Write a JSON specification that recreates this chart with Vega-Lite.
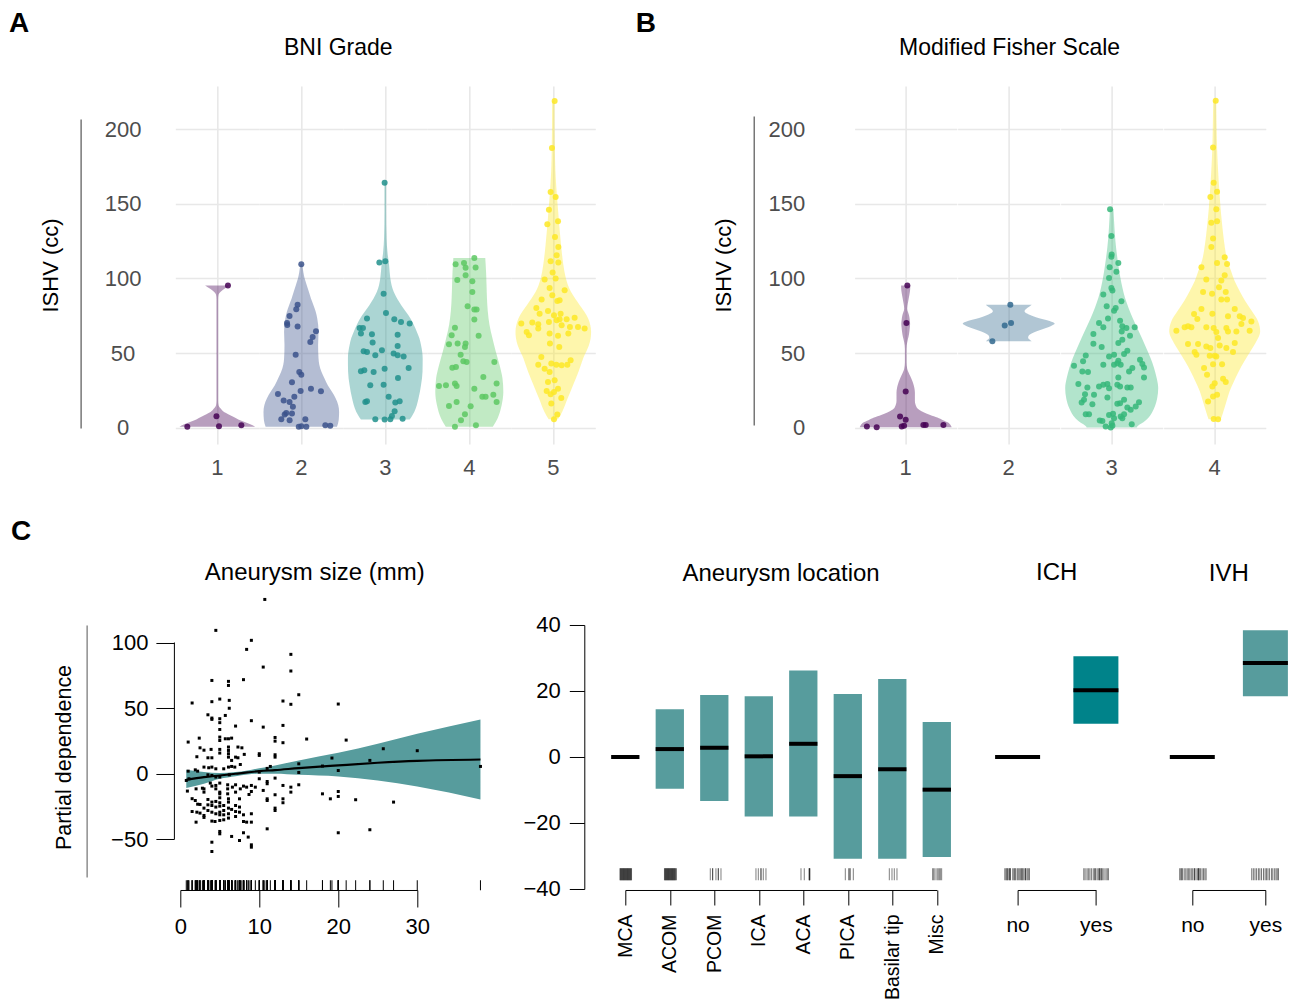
{
"$schema":"https://vega.github.io/schema/vega-lite/v6.json",
"background":"white",
"padding":{"left":8.3,"top":10,"right":5,"bottom":5},
"config":{
 "view":{"stroke":null},
 "font":"Liberation Sans",
 "title":{"font":"Liberation Sans","fontWeight":"normal","color":"black","fontSize":24},
 "axis":{"labelFont":"Liberation Sans","titleFont":"Liberation Sans"},
 "header":{"labelFont":"Liberation Sans","titleFont":"Liberation Sans"}
},
"datasets":{
"bni":[
{"k":"v","g":1,"v":0.5,"l":-0.45,"h":0.45},{"k":"v","g":1,"v":2,"l":-0.4,"h":0.4},{"k":"v","g":1,"v":3.8,"l":-0.325,"h":0.325},{"k":"v","g":1,"v":5.5,"l":-0.25,"h":0.25},{"k":"v","g":1,"v":7.2,"l":-0.19,"h":0.19},{"k":"v","g":1,"v":9,"l":-0.13,"h":0.13},{"k":"v","g":1,"v":10.5,"l":-0.08,"h":0.08},{"k":"v","g":1,"v":12.8,"l":-0.04,"h":0.04},{"k":"v","g":1,"v":15,"l":-0.015,"h":0.015},{"k":"v","g":1,"v":18,"l":-0.01,"h":0.01},{"k":"v","g":1,"v":86,"l":-0.01,"h":0.01},{"k":"v","g":1,"v":89,"l":-0.015,"h":0.015},{"k":"v","g":1,"v":91,"l":-0.04,"h":0.04},{"k":"v","g":1,"v":93,"l":-0.085,"h":0.085},{"k":"v","g":1,"v":95.2,"l":-0.145,"h":0.145},
{"k":"v","g":2,"v":0.5,"l":-0.425,"h":0.425},{"k":"v","g":2,"v":5,"l":-0.445,"h":0.445},{"k":"v","g":2,"v":10.5,"l":-0.45,"h":0.45},{"k":"v","g":2,"v":15,"l":-0.44,"h":0.44},{"k":"v","g":2,"v":19.5,"l":-0.41,"h":0.41},{"k":"v","g":2,"v":24,"l":-0.365,"h":0.365},{"k":"v","g":2,"v":28.4,"l":-0.315,"h":0.315},{"k":"v","g":2,"v":33,"l":-0.275,"h":0.275},{"k":"v","g":2,"v":37.4,"l":-0.24,"h":0.24},{"k":"v","g":2,"v":42,"l":-0.215,"h":0.215},{"k":"v","g":2,"v":46.3,"l":-0.205,"h":0.205},{"k":"v","g":2,"v":55.3,"l":-0.2,"h":0.2},{"k":"v","g":2,"v":64.2,"l":-0.205,"h":0.205},{"k":"v","g":2,"v":73.2,"l":-0.19,"h":0.19},{"k":"v","g":2,"v":78,"l":-0.17,"h":0.17},{"k":"v","g":2,"v":82.1,"l":-0.145,"h":0.145},{"k":"v","g":2,"v":86.5,"l":-0.115,"h":0.115},{"k":"v","g":2,"v":91,"l":-0.09,"h":0.09},{"k":"v","g":2,"v":95.5,"l":-0.065,"h":0.065},{"k":"v","g":2,"v":100,"l":-0.04,"h":0.04},{"k":"v","g":2,"v":104,"l":-0.025,"h":0.025},{"k":"v","g":2,"v":107.8,"l":-0.015,"h":0.015},{"k":"v","g":2,"v":109.5,"l":-0.01,"h":0.01},
{"k":"v","g":3,"v":5.4,"l":-0.29,"h":0.29},{"k":"v","g":3,"v":8,"l":-0.32,"h":0.32},{"k":"v","g":3,"v":10.5,"l":-0.345,"h":0.345},{"k":"v","g":3,"v":15,"l":-0.375,"h":0.375},{"k":"v","g":3,"v":19.5,"l":-0.395,"h":0.395},{"k":"v","g":3,"v":28.4,"l":-0.425,"h":0.425},{"k":"v","g":3,"v":37.4,"l":-0.443,"h":0.443},{"k":"v","g":3,"v":46.3,"l":-0.445,"h":0.445},{"k":"v","g":3,"v":55.3,"l":-0.425,"h":0.425},{"k":"v","g":3,"v":60,"l":-0.405,"h":0.405},{"k":"v","g":3,"v":64.2,"l":-0.375,"h":0.375},{"k":"v","g":3,"v":68.7,"l":-0.34,"h":0.34},{"k":"v","g":3,"v":73.2,"l":-0.3,"h":0.3},{"k":"v","g":3,"v":77.6,"l":-0.245,"h":0.245},{"k":"v","g":3,"v":82.1,"l":-0.19,"h":0.19},{"k":"v","g":3,"v":86.5,"l":-0.14,"h":0.14},{"k":"v","g":3,"v":91,"l":-0.1,"h":0.1},{"k":"v","g":3,"v":95.5,"l":-0.075,"h":0.075},{"k":"v","g":3,"v":100,"l":-0.06,"h":0.06},{"k":"v","g":3,"v":109,"l":-0.045,"h":0.045},{"k":"v","g":3,"v":118,"l":-0.025,"h":0.025},{"k":"v","g":3,"v":127,"l":-0.015,"h":0.015},{"k":"v","g":3,"v":145,"l":-0.01,"h":0.01},{"k":"v","g":3,"v":164.2,"l":-0.01,"h":0.01},
{"k":"v","g":4,"v":0.5,"l":-0.28,"h":0.28},{"k":"v","g":4,"v":6,"l":-0.335,"h":0.335},{"k":"v","g":4,"v":15,"l":-0.385,"h":0.385},{"k":"v","g":4,"v":24,"l":-0.405,"h":0.405},{"k":"v","g":4,"v":33,"l":-0.395,"h":0.395},{"k":"v","g":4,"v":42,"l":-0.36,"h":0.36},{"k":"v","g":4,"v":51,"l":-0.315,"h":0.315},{"k":"v","g":4,"v":60,"l":-0.275,"h":0.275},{"k":"v","g":4,"v":69,"l":-0.24,"h":0.24},{"k":"v","g":4,"v":78,"l":-0.22,"h":0.22},{"k":"v","g":4,"v":87,"l":-0.21,"h":0.21},{"k":"v","g":4,"v":96,"l":-0.205,"h":0.205},{"k":"v","g":4,"v":104,"l":-0.2,"h":0.2},{"k":"v","g":4,"v":113.7,"l":-0.19,"h":0.19},
{"k":"v","g":5,"v":5.6,"l":-0.055,"h":0.055},{"k":"v","g":5,"v":10.5,"l":-0.105,"h":0.105},{"k":"v","g":5,"v":19.5,"l":-0.17,"h":0.17},{"k":"v","g":5,"v":28.4,"l":-0.235,"h":0.235},{"k":"v","g":5,"v":37.4,"l":-0.3,"h":0.3},{"k":"v","g":5,"v":46.3,"l":-0.355,"h":0.355},{"k":"v","g":5,"v":55.3,"l":-0.425,"h":0.425},{"k":"v","g":5,"v":60,"l":-0.445,"h":0.445},{"k":"v","g":5,"v":64.2,"l":-0.45,"h":0.45},{"k":"v","g":5,"v":68.7,"l":-0.44,"h":0.44},{"k":"v","g":5,"v":73.2,"l":-0.415,"h":0.415},{"k":"v","g":5,"v":77.6,"l":-0.37,"h":0.37},{"k":"v","g":5,"v":82.1,"l":-0.315,"h":0.315},{"k":"v","g":5,"v":86.5,"l":-0.26,"h":0.26},{"k":"v","g":5,"v":91,"l":-0.21,"h":0.21},{"k":"v","g":5,"v":95.5,"l":-0.175,"h":0.175},{"k":"v","g":5,"v":100,"l":-0.15,"h":0.15},{"k":"v","g":5,"v":109,"l":-0.12,"h":0.12},{"k":"v","g":5,"v":118,"l":-0.1,"h":0.1},{"k":"v","g":5,"v":127,"l":-0.085,"h":0.085},{"k":"v","g":5,"v":136,"l":-0.07,"h":0.07},{"k":"v","g":5,"v":145,"l":-0.058,"h":0.058},{"k":"v","g":5,"v":154,"l":-0.045,"h":0.045},{"k":"v","g":5,"v":163,"l":-0.034,"h":0.034},{"k":"v","g":5,"v":172,"l":-0.025,"h":0.025},{"k":"v","g":5,"v":190,"l":-0.018,"h":0.018},{"k":"v","g":5,"v":207,"l":-0.015,"h":0.015},{"k":"v","g":5,"v":219,"l":-0.015,"h":0.015},
{"k":"p","g":1,"v":0.5,"j":-0.357},{"k":"p","g":1,"v":0.9,"j":0.02},{"k":"p","g":1,"v":1.6,"j":0.286},{"k":"p","g":1,"v":7.6,"j":-0.01},{"k":"p","g":1,"v":95.2,"j":0.127},
{"k":"p","g":2,"v":109.5,"j":0},{"k":"p","g":2,"v":82.4,"j":-0.044},{"k":"p","g":2,"v":79.3,"j":-0.06},{"k":"p","g":2,"v":74.8,"j":-0.14},{"k":"p","g":2,"v":70.2,"j":-0.17},{"k":"p","g":2,"v":68.8,"j":-0.167},{"k":"p","g":2,"v":67.7,"j":-0.044},{"k":"p","g":2,"v":64.6,"j":0.175},{"k":"p","g":2,"v":60.8,"j":0.135},{"k":"p","g":2,"v":57.4,"j":0.107},{"k":"p","g":2,"v":48.9,"j":-0.067},{"k":"p","g":2,"v":37.3,"j":-0.024},{"k":"p","g":2,"v":35.5,"j":0},{"k":"p","g":2,"v":30.4,"j":-0.111},{"k":"p","g":2,"v":26.1,"j":0.115},{"k":"p","g":2,"v":24.4,"j":0.234},{"k":"p","g":2,"v":24.6,"j":-0.008},{"k":"p","g":2,"v":22.6,"j":-0.278},{"k":"p","g":2,"v":18.1,"j":-0.21},{"k":"p","g":2,"v":20.6,"j":-0.083},{"k":"p","g":2,"v":17.2,"j":-0.14},{"k":"p","g":2,"v":13.9,"j":-0.1},{"k":"p","g":2,"v":9.8,"j":-0.179},{"k":"p","g":2,"v":8.7,"j":-0.198},{"k":"p","g":2,"v":9.4,"j":-0.111},{"k":"p","g":2,"v":5.6,"j":-0.238},{"k":"p","g":2,"v":4.9,"j":-0.139},{"k":"p","g":2,"v":5.6,"j":0.048},{"k":"p","g":2,"v":0.5,"j":-0.03},{"k":"p","g":2,"v":0.9,"j":0},{"k":"p","g":2,"v":0.5,"j":0.06},{"k":"p","g":2,"v":1.6,"j":0.286},{"k":"p","g":2,"v":1.2,"j":0.345},
{"k":"p","g":3,"v":164.2,"j":-0.008},{"k":"p","g":3,"v":110.6,"j":-0.071},{"k":"p","g":3,"v":111.5,"j":0},{"k":"p","g":3,"v":89.8,"j":-0.02},{"k":"p","g":3,"v":76.9,"j":0.008},{"k":"p","g":3,"v":73.1,"j":-0.218},{"k":"p","g":3,"v":72.6,"j":0.107},{"k":"p","g":3,"v":70.8,"j":0.187},{"k":"p","g":3,"v":69.7,"j":0.29},{"k":"p","g":3,"v":66.8,"j":-0.306},{"k":"p","g":3,"v":66.8,"j":-0.266},{"k":"p","g":3,"v":63,"j":-0.29},{"k":"p","g":3,"v":62.5,"j":-0.159},{"k":"p","g":3,"v":62.3,"j":0.147},{"k":"p","g":3,"v":57,"j":-0.151},{"k":"p","g":3,"v":54.7,"j":0.147},{"k":"p","g":3,"v":51.8,"j":-0.04},{"k":"p","g":3,"v":51.1,"j":-0.258},{"k":"p","g":3,"v":50.7,"j":-0.218},{"k":"p","g":3,"v":49.6,"j":0.099},{"k":"p","g":3,"v":48.5,"j":-0.119},{"k":"p","g":3,"v":48.5,"j":0.147},{"k":"p","g":3,"v":47.6,"j":0.218},{"k":"p","g":3,"v":37.7,"j":-0.29},{"k":"p","g":3,"v":38.4,"j":-0.25},{"k":"p","g":3,"v":37.3,"j":-0.139},{"k":"p","g":3,"v":39.5,"j":-0.008},{"k":"p","g":3,"v":40,"j":0.278},{"k":"p","g":3,"v":33.3,"j":0.151},{"k":"p","g":3,"v":28.4,"j":-0.179},{"k":"p","g":3,"v":28.8,"j":-0.02},{"k":"p","g":3,"v":17.2,"j":-0.238},{"k":"p","g":3,"v":17.6,"j":-0.218},{"k":"p","g":3,"v":20.6,"j":0.04},{"k":"p","g":3,"v":16.8,"j":0.119},{"k":"p","g":3,"v":17.6,"j":0.171},{"k":"p","g":3,"v":10.9,"j":0.111},{"k":"p","g":3,"v":7.8,"j":0.079},{"k":"p","g":3,"v":5.6,"j":-0.119},{"k":"p","g":3,"v":5.4,"j":-0.008},{"k":"p","g":3,"v":5.6,"j":0.06},{"k":"p","g":3,"v":6,"j":0.206},
{"k":"p","g":4,"v":113.7,"j":0.06},{"k":"p","g":4,"v":109.5,"j":-0.163},{"k":"p","g":4,"v":110.4,"j":-0.063},{"k":"p","g":4,"v":107.2,"j":-0.044},{"k":"p","g":4,"v":107.4,"j":0.075},{"k":"p","g":4,"v":102.1,"j":-0.044},{"k":"p","g":4,"v":99,"j":-0.143},{"k":"p","g":4,"v":98.1,"j":0.036},{"k":"p","g":4,"v":90.9,"j":0.036},{"k":"p","g":4,"v":81.3,"j":-0.02},{"k":"p","g":4,"v":79.1,"j":0.06},{"k":"p","g":4,"v":79.1,"j":0.087},{"k":"p","g":4,"v":72.4,"j":0.06},{"k":"p","g":4,"v":67,"j":-0.171},{"k":"p","g":4,"v":61.9,"j":-0.21},{"k":"p","g":4,"v":61.5,"j":0.111},{"k":"p","g":4,"v":55.9,"j":-0.242},{"k":"p","g":4,"v":56.3,"j":-0.139},{"k":"p","g":4,"v":56.3,"j":-0.044},{"k":"p","g":4,"v":54.1,"j":-0.052},{"k":"p","g":4,"v":48.9,"j":-0.103},{"k":"p","g":4,"v":44.4,"j":-0.071},{"k":"p","g":4,"v":44,"j":-0.032},{"k":"p","g":4,"v":44,"j":0.298},{"k":"p","g":4,"v":40.7,"j":-0.159},{"k":"p","g":4,"v":40.2,"j":-0.202},{"k":"p","g":4,"v":34,"j":0.167},{"k":"p","g":4,"v":27.9,"j":-0.361},{"k":"p","g":4,"v":28.4,"j":-0.278},{"k":"p","g":4,"v":27.9,"j":-0.151},{"k":"p","g":4,"v":29.5,"j":-0.171},{"k":"p","g":4,"v":29.5,"j":0.325},{"k":"p","g":4,"v":26.1,"j":0.06},{"k":"p","g":4,"v":22.1,"j":0.286},{"k":"p","g":4,"v":20.6,"j":0.155},{"k":"p","g":4,"v":20.6,"j":0.194},{"k":"p","g":4,"v":17.2,"j":0.325},{"k":"p","g":4,"v":17.2,"j":-0.151},{"k":"p","g":4,"v":14.5,"j":-0.242},{"k":"p","g":4,"v":14.3,"j":0.016},{"k":"p","g":4,"v":8.9,"j":-0.052},{"k":"p","g":4,"v":4.9,"j":-0.099},{"k":"p","g":4,"v":0.5,"j":-0.171},{"k":"p","g":4,"v":1.6,"j":0.079},
{"k":"p","g":5,"v":219,"j":0.016},{"k":"p","g":5,"v":187.4,"j":-0.016},{"k":"p","g":5,"v":158,"j":-0.032},{"k":"p","g":5,"v":154.6,"j":0.028},{"k":"p","g":5,"v":146.1,"j":-0.052},{"k":"p","g":5,"v":138.3,"j":0.056},{"k":"p","g":5,"v":136.3,"j":-0.071},{"k":"p","g":5,"v":127.8,"j":0.02},{"k":"p","g":5,"v":121.1,"j":0.06},{"k":"p","g":5,"v":115.5,"j":0.04},{"k":"p","g":5,"v":111.5,"j":-0.032},{"k":"p","g":5,"v":110.6,"j":0.06},{"k":"p","g":5,"v":103.9,"j":-0.008},{"k":"p","g":5,"v":99.2,"j":-0.103},{"k":"p","g":5,"v":99.9,"j":0.028},{"k":"p","g":5,"v":93.6,"j":-0.044},{"k":"p","g":5,"v":92,"j":0.135},{"k":"p","g":5,"v":88.7,"j":-0.012},{"k":"p","g":5,"v":85.8,"j":-0.139},{"k":"p","g":5,"v":84.9,"j":0.048},{"k":"p","g":5,"v":85.3,"j":0.075},{"k":"p","g":5,"v":80.2,"j":-0.202},{"k":"p","g":5,"v":76.4,"j":-0.163},{"k":"p","g":5,"v":78.2,"j":-0.063},{"k":"p","g":5,"v":75.3,"j":0.008},{"k":"p","g":5,"v":76.4,"j":0.087},{"k":"p","g":5,"v":69.7,"j":-0.381},{"k":"p","g":5,"v":70.4,"j":-0.25},{"k":"p","g":5,"v":69.3,"j":-0.179},{"k":"p","g":5,"v":70.8,"j":-0.052},{"k":"p","g":5,"v":71.9,"j":0.04},{"k":"p","g":5,"v":72.6,"j":0.075},{"k":"p","g":5,"v":72.6,"j":0.159},{"k":"p","g":5,"v":73.7,"j":0.254},{"k":"p","g":5,"v":68.6,"j":0.099},{"k":"p","g":5,"v":67.5,"j":0.198},{"k":"p","g":5,"v":67.5,"j":0.294},{"k":"p","g":5,"v":66.4,"j":0.373},{"k":"p","g":5,"v":64.1,"j":-0.317},{"k":"p","g":5,"v":61.9,"j":-0.29},{"k":"p","g":5,"v":66.4,"j":-0.179},{"k":"p","g":5,"v":63,"j":-0.044},{"k":"p","g":5,"v":61.5,"j":0.056},{"k":"p","g":5,"v":63,"j":0.179},{"k":"p","g":5,"v":56.3,"j":-0.04},{"k":"p","g":5,"v":54.1,"j":0.071},{"k":"p","g":5,"v":47.4,"j":-0.143},{"k":"p","g":5,"v":45.1,"j":0.206},{"k":"p","g":5,"v":42.2,"j":-0.179},{"k":"p","g":5,"v":42.9,"j":-0.024},{"k":"p","g":5,"v":42.2,"j":0.036},{"k":"p","g":5,"v":41.8,"j":0.099},{"k":"p","g":5,"v":42.2,"j":0.167},{"k":"p","g":5,"v":39.5,"j":-0.103},{"k":"p","g":5,"v":37.3,"j":-0.044},{"k":"p","g":5,"v":30.6,"j":-0.063},{"k":"p","g":5,"v":31.7,"j":0.016},{"k":"p","g":5,"v":24.6,"j":-0.079},{"k":"p","g":5,"v":22.3,"j":-0.032},{"k":"p","g":5,"v":26.1,"j":0.056},{"k":"p","g":5,"v":23.9,"j":0.008},{"k":"p","g":5,"v":19.9,"j":0.095},{"k":"p","g":5,"v":16.1,"j":-0.024},{"k":"p","g":5,"v":8.7,"j":0.048},{"k":"p","g":5,"v":5.6,"j":0.008}
],
"fisher":[
{"k":"v","g":1,"v":0.2,"l":-0.45,"h":0.45},{"k":"v","g":1,"v":1.5,"l":-0.44,"h":0.44},{"k":"v","g":1,"v":3.4,"l":-0.415,"h":0.415},{"k":"v","g":1,"v":5,"l":-0.365,"h":0.365},{"k":"v","g":1,"v":6.8,"l":-0.31,"h":0.31},{"k":"v","g":1,"v":8.5,"l":-0.24,"h":0.24},{"k":"v","g":1,"v":10.1,"l":-0.18,"h":0.18},{"k":"v","g":1,"v":11.8,"l":-0.135,"h":0.135},{"k":"v","g":1,"v":13.5,"l":-0.108,"h":0.108},{"k":"v","g":1,"v":18,"l":-0.09,"h":0.09},{"k":"v","g":1,"v":23.6,"l":-0.09,"h":0.09},{"k":"v","g":1,"v":26.5,"l":-0.085,"h":0.085},{"k":"v","g":1,"v":29.2,"l":-0.075,"h":0.075},{"k":"v","g":1,"v":32,"l":-0.06,"h":0.06},{"k":"v","g":1,"v":34.8,"l":-0.043,"h":0.043},{"k":"v","g":1,"v":37,"l":-0.028,"h":0.028},{"k":"v","g":1,"v":39.3,"l":-0.015,"h":0.015},{"k":"v","g":1,"v":43.8,"l":-0.008,"h":0.008},{"k":"v","g":1,"v":52.7,"l":-0.008,"h":0.008},{"k":"v","g":1,"v":57.2,"l":-0.015,"h":0.015},{"k":"v","g":1,"v":61,"l":-0.028,"h":0.028},{"k":"v","g":1,"v":63.9,"l":-0.035,"h":0.035},{"k":"v","g":1,"v":67,"l":-0.04,"h":0.04},{"k":"v","g":1,"v":69.5,"l":-0.043,"h":0.043},{"k":"v","g":1,"v":72,"l":-0.04,"h":0.04},{"k":"v","g":1,"v":75.1,"l":-0.033,"h":0.033},{"k":"v","g":1,"v":79.6,"l":-0.015,"h":0.015},{"k":"v","g":1,"v":82,"l":-0.018,"h":0.018},{"k":"v","g":1,"v":84.1,"l":-0.023,"h":0.023},{"k":"v","g":1,"v":88.6,"l":-0.035,"h":0.035},{"k":"v","g":1,"v":92,"l":-0.043,"h":0.043},{"k":"v","g":1,"v":95.2,"l":-0.045,"h":0.045},
{"k":"v","g":2,"v":57.8,"l":-0.225,"h":0.225},{"k":"v","g":2,"v":59,"l":-0.205,"h":0.205},{"k":"v","g":2,"v":60.3,"l":-0.19,"h":0.19},{"k":"v","g":2,"v":62,"l":-0.2,"h":0.2},{"k":"v","g":2,"v":64,"l":-0.25,"h":0.25},{"k":"v","g":2,"v":66,"l":-0.33,"h":0.33},{"k":"v","g":2,"v":68,"l":-0.41,"h":0.41},{"k":"v","g":2,"v":69.7,"l":-0.45,"h":0.45},{"k":"v","g":2,"v":71.5,"l":-0.4,"h":0.4},{"k":"v","g":2,"v":73.5,"l":-0.29,"h":0.29},{"k":"v","g":2,"v":75.5,"l":-0.21,"h":0.21},{"k":"v","g":2,"v":77,"l":-0.165,"h":0.165},{"k":"v","g":2,"v":78,"l":-0.155,"h":0.155},{"k":"v","g":2,"v":79.5,"l":-0.17,"h":0.17},{"k":"v","g":2,"v":81,"l":-0.2,"h":0.2},{"k":"v","g":2,"v":82.4,"l":-0.225,"h":0.225},
{"k":"v","g":3,"v":0,"l":-0.245,"h":0.245},{"k":"v","g":3,"v":0.7,"l":-0.25,"h":0.25},{"k":"v","g":3,"v":3.5,"l":-0.31,"h":0.31},{"k":"v","g":3,"v":6.3,"l":-0.355,"h":0.355},{"k":"v","g":3,"v":13,"l":-0.415,"h":0.415},{"k":"v","g":3,"v":19.7,"l":-0.445,"h":0.445},{"k":"v","g":3,"v":26.4,"l":-0.455,"h":0.455},{"k":"v","g":3,"v":33.2,"l":-0.44,"h":0.44},{"k":"v","g":3,"v":39.8,"l":-0.415,"h":0.415},{"k":"v","g":3,"v":46.6,"l":-0.38,"h":0.38},{"k":"v","g":3,"v":53.3,"l":-0.338,"h":0.338},{"k":"v","g":3,"v":60,"l":-0.295,"h":0.295},{"k":"v","g":3,"v":66.8,"l":-0.25,"h":0.25},{"k":"v","g":3,"v":73.5,"l":-0.205,"h":0.205},{"k":"v","g":3,"v":80.2,"l":-0.165,"h":0.165},{"k":"v","g":3,"v":87,"l":-0.13,"h":0.13},{"k":"v","g":3,"v":93.7,"l":-0.105,"h":0.105},{"k":"v","g":3,"v":100.4,"l":-0.085,"h":0.085},{"k":"v","g":3,"v":107.1,"l":-0.069,"h":0.069},{"k":"v","g":3,"v":113.9,"l":-0.055,"h":0.055},{"k":"v","g":3,"v":120.6,"l":-0.043,"h":0.043},{"k":"v","g":3,"v":129.6,"l":-0.031,"h":0.031},{"k":"v","g":3,"v":138.6,"l":-0.023,"h":0.023},{"k":"v","g":3,"v":146.3,"l":-0.017,"h":0.017},
{"k":"v","g":4,"v":5.6,"l":-0.06,"h":0.06},{"k":"v","g":4,"v":10.8,"l":-0.085,"h":0.085},{"k":"v","g":4,"v":17.5,"l":-0.115,"h":0.115},{"k":"v","g":4,"v":24.2,"l":-0.145,"h":0.145},{"k":"v","g":4,"v":30.9,"l":-0.188,"h":0.188},{"k":"v","g":4,"v":37.6,"l":-0.235,"h":0.235},{"k":"v","g":4,"v":44.4,"l":-0.29,"h":0.29},{"k":"v","g":4,"v":51.1,"l":-0.35,"h":0.35},{"k":"v","g":4,"v":57.8,"l":-0.408,"h":0.408},{"k":"v","g":4,"v":64.5,"l":-0.445,"h":0.445},{"k":"v","g":4,"v":71.2,"l":-0.425,"h":0.425},{"k":"v","g":4,"v":78,"l":-0.365,"h":0.365},{"k":"v","g":4,"v":84.7,"l":-0.3,"h":0.3},{"k":"v","g":4,"v":91.4,"l":-0.245,"h":0.245},{"k":"v","g":4,"v":98.2,"l":-0.195,"h":0.195},{"k":"v","g":4,"v":104.9,"l":-0.16,"h":0.16},{"k":"v","g":4,"v":111.6,"l":-0.125,"h":0.125},{"k":"v","g":4,"v":120.6,"l":-0.1,"h":0.1},{"k":"v","g":4,"v":129.6,"l":-0.083,"h":0.083},{"k":"v","g":4,"v":138.6,"l":-0.069,"h":0.069},{"k":"v","g":4,"v":147.5,"l":-0.057,"h":0.057},{"k":"v","g":4,"v":156.5,"l":-0.048,"h":0.048},{"k":"v","g":4,"v":165.5,"l":-0.039,"h":0.039},{"k":"v","g":4,"v":176.7,"l":-0.03,"h":0.03},{"k":"v","g":4,"v":187.9,"l":-0.023,"h":0.023},{"k":"v","g":4,"v":203.6,"l":-0.018,"h":0.018},{"k":"v","g":4,"v":219.1,"l":-0.015,"h":0.015},
{"k":"p","g":1,"v":95.2,"j":0.016},{"k":"p","g":1,"v":70.1,"j":0.007},{"k":"p","g":1,"v":24.2,"j":0},{"k":"p","g":1,"v":7.4,"j":-0.055},{"k":"p","g":1,"v":5.2,"j":0},{"k":"p","g":1,"v":0.7,"j":-0.039},{"k":"p","g":1,"v":1.3,"j":-0.016},{"k":"p","g":1,"v":0.7,"j":-0.38},{"k":"p","g":1,"v":0.2,"j":-0.284},{"k":"p","g":1,"v":1.8,"j":0.173},{"k":"p","g":1,"v":1.8,"j":0.196},{"k":"p","g":1,"v":1.8,"j":0.369},
{"k":"p","g":2,"v":82.4,"j":0.016},{"k":"p","g":2,"v":70.1,"j":0.023},{"k":"p","g":2,"v":68.5,"j":-0.039},{"k":"p","g":2,"v":57.8,"j":-0.16},
{"k":"p","g":3,"v":146.3,"j":-0.016},{"k":"p","g":3,"v":128.4,"j":-0.003},{"k":"p","g":3,"v":116.1,"j":0},{"k":"p","g":3,"v":114.5,"j":-0.003},{"k":"p","g":3,"v":110.4,"j":0.065},{"k":"p","g":3,"v":107.5,"j":-0.02},{"k":"p","g":3,"v":104.4,"j":0.046},{"k":"p","g":3,"v":100.3,"j":-0.026},{"k":"p","g":3,"v":93.6,"j":-0.003},{"k":"p","g":3,"v":91.9,"j":0.007},{"k":"p","g":3,"v":89.2,"j":-0.082},{"k":"p","g":3,"v":84.7,"j":0.095},{"k":"p","g":3,"v":81.3,"j":-0.049},{"k":"p","g":3,"v":80.2,"j":0.039},{"k":"p","g":3,"v":78.4,"j":0.023},{"k":"p","g":3,"v":73.1,"j":-0.036},{"k":"p","g":3,"v":70.1,"j":-0.124},{"k":"p","g":3,"v":67.2,"j":-0.082},{"k":"p","g":3,"v":71.7,"j":0.082},{"k":"p","g":3,"v":67.9,"j":0.104},{"k":"p","g":3,"v":66.7,"j":0.144},{"k":"p","g":3,"v":67.2,"j":0.225},{"k":"p","g":3,"v":64.5,"j":0.098},{"k":"p","g":3,"v":61.6,"j":0.179},{"k":"p","g":3,"v":62.7,"j":-0.179},{"k":"p","g":3,"v":58.9,"j":0.104},{"k":"p","g":3,"v":56.7,"j":0.065},{"k":"p","g":3,"v":56.2,"j":-0.179},{"k":"p","g":3,"v":54,"j":-0.098},{"k":"p","g":3,"v":51.5,"j":0.153},{"k":"p","g":3,"v":47.7,"j":-0.026},{"k":"p","g":3,"v":48.8,"j":0.023},{"k":"p","g":3,"v":49.3,"j":0.121},{"k":"p","g":3,"v":48.4,"j":-0.254},{"k":"p","g":3,"v":44.4,"j":-0.28},{"k":"p","g":3,"v":41.4,"j":-0.369},{"k":"p","g":3,"v":44.8,"j":0.065},{"k":"p","g":3,"v":42.1,"j":0.023},{"k":"p","g":3,"v":43.2,"j":0.055},{"k":"p","g":3,"v":42.1,"j":0.088},{"k":"p","g":3,"v":45.5,"j":0.277},{"k":"p","g":3,"v":42.6,"j":0.3},{"k":"p","g":3,"v":40.3,"j":0.316},{"k":"p","g":3,"v":42.1,"j":-0.082},{"k":"p","g":3,"v":39.9,"j":0.202},{"k":"p","g":3,"v":37.6,"j":0.17},{"k":"p","g":3,"v":37.6,"j":-0.287},{"k":"p","g":3,"v":37.2,"j":-0.232},{"k":"p","g":3,"v":33.6,"j":0.065},{"k":"p","g":3,"v":33.6,"j":0.316},{"k":"p","g":3,"v":29.3,"j":-0.326},{"k":"p","g":3,"v":26.9,"j":-0.238},{"k":"p","g":3,"v":27.6,"j":-0.124},{"k":"p","g":3,"v":28.7,"j":-0.082},{"k":"p","g":3,"v":29.3,"j":-0.042},{"k":"p","g":3,"v":26.4,"j":-0.026},{"k":"p","g":3,"v":28.7,"j":0.055},{"k":"p","g":3,"v":27.6,"j":0.082},{"k":"p","g":3,"v":26.9,"j":0.153},{"k":"p","g":3,"v":26.9,"j":0.186},{"k":"p","g":3,"v":22.4,"j":-0.261},{"k":"p","g":3,"v":22,"j":-0.173},{"k":"p","g":3,"v":18.6,"j":-0.271},{"k":"p","g":3,"v":20.2,"j":-0.042},{"k":"p","g":3,"v":15.7,"j":-0.189},{"k":"p","g":3,"v":16.8,"j":-0.294},{"k":"p","g":3,"v":18.6,"j":0.121},{"k":"p","g":3,"v":16.3,"j":0.082},{"k":"p","g":3,"v":15.9,"j":0.055},{"k":"p","g":3,"v":17,"j":0.267},{"k":"p","g":3,"v":14.1,"j":0.235},{"k":"p","g":3,"v":11.9,"j":0.186},{"k":"p","g":3,"v":13.4,"j":0.153},{"k":"p","g":3,"v":8.9,"j":-0.254},{"k":"p","g":3,"v":8.9,"j":-0.222},{"k":"p","g":3,"v":8.5,"j":-0.026},{"k":"p","g":3,"v":9.2,"j":0.013},{"k":"p","g":3,"v":4.5,"j":-0.091},{"k":"p","g":3,"v":4.7,"j":-0.117},{"k":"p","g":3,"v":2.9,"j":0},{"k":"p","g":3,"v":6.3,"j":0.023},{"k":"p","g":3,"v":7.4,"j":0.088},{"k":"p","g":3,"v":6.3,"j":0.104},{"k":"p","g":3,"v":2.2,"j":0.196},{"k":"p","g":3,"v":0,"j":-0.01},{"k":"p","g":3,"v":1.3,"j":0.007},{"k":"p","g":3,"v":0.7,"j":-0.059},{"k":"p","g":3,"v":8.9,"j":0.121},
{"k":"p","g":4,"v":219.1,"j":0.01},{"k":"p","g":4,"v":187.7,"j":-0.016},{"k":"p","g":4,"v":164.2,"j":-0.01},{"k":"p","g":4,"v":158.1,"j":0.023},{"k":"p","g":4,"v":154.6,"j":-0.042},{"k":"p","g":4,"v":146.3,"j":0.016},{"k":"p","g":4,"v":137.3,"j":-0.033},{"k":"p","g":4,"v":138.4,"j":0.023},{"k":"p","g":4,"v":126.8,"j":-0.016},{"k":"p","g":4,"v":121,"j":-0.033},{"k":"p","g":4,"v":114.2,"j":0.098},{"k":"p","g":4,"v":109.7,"j":0.121},{"k":"p","g":4,"v":110.4,"j":0.023},{"k":"p","g":4,"v":107.5,"j":-0.13},{"k":"p","g":4,"v":102.2,"j":0.098},{"k":"p","g":4,"v":98.6,"j":0.065},{"k":"p","g":4,"v":99.3,"j":-0.082},{"k":"p","g":4,"v":94.1,"j":0.042},{"k":"p","g":4,"v":90.9,"j":-0.114},{"k":"p","g":4,"v":90.9,"j":0.108},{"k":"p","g":4,"v":89.8,"j":-0.026},{"k":"p","g":4,"v":85.8,"j":0.121},{"k":"p","g":4,"v":85.8,"j":0.065},{"k":"p","g":4,"v":79.5,"j":-0.13},{"k":"p","g":4,"v":76.4,"j":-0.023},{"k":"p","g":4,"v":76.2,"j":-0.202},{"k":"p","g":4,"v":72.8,"j":-0.17},{"k":"p","g":4,"v":74.6,"j":0.13},{"k":"p","g":4,"v":79.5,"j":0.196},{"k":"p","g":4,"v":74.6,"j":0.245},{"k":"p","g":4,"v":73.5,"j":0.277},{"k":"p","g":4,"v":69.4,"j":0.261},{"k":"p","g":4,"v":71.2,"j":0.359},{"k":"p","g":4,"v":67.9,"j":-0.261},{"k":"p","g":4,"v":67.2,"j":-0.294},{"k":"p","g":4,"v":65,"j":-0.375},{"k":"p","g":4,"v":67.2,"j":-0.228},{"k":"p","g":4,"v":67.2,"j":-0.082},{"k":"p","g":4,"v":66.7,"j":-0.01},{"k":"p","g":4,"v":64.1,"j":0.016},{"k":"p","g":4,"v":66.7,"j":0.114},{"k":"p","g":4,"v":64.5,"j":0.13},{"k":"p","g":4,"v":64.5,"j":0.212},{"k":"p","g":4,"v":65,"j":0.342},{"k":"p","g":4,"v":56,"j":-0.163},{"k":"p","g":4,"v":56,"j":-0.261},{"k":"p","g":4,"v":54.4,"j":-0.082},{"k":"p","g":4,"v":53.3,"j":-0.042},{"k":"p","g":4,"v":60,"j":0.033},{"k":"p","g":4,"v":55.1,"j":0.049},{"k":"p","g":4,"v":53.3,"j":0.114},{"k":"p","g":4,"v":56.7,"j":0.196},{"k":"p","g":4,"v":50.6,"j":0.179},{"k":"p","g":4,"v":50.6,"j":-0.196},{"k":"p","g":4,"v":48.2,"j":-0.049},{"k":"p","g":4,"v":48.2,"j":0},{"k":"p","g":4,"v":42.5,"j":-0.016},{"k":"p","g":4,"v":42.5,"j":0.072},{"k":"p","g":4,"v":39.9,"j":-0.104},{"k":"p","g":4,"v":35.4,"j":-0.075},{"k":"p","g":4,"v":32.7,"j":0.082},{"k":"p","g":4,"v":30.5,"j":0.108},{"k":"p","g":4,"v":29.8,"j":0},{"k":"p","g":4,"v":27.6,"j":-0.023},{"k":"p","g":4,"v":22,"j":0.023},{"k":"p","g":4,"v":20.8,"j":-0.016},{"k":"p","g":4,"v":17.5,"j":-0.065},{"k":"p","g":4,"v":5.8,"j":-0.01},{"k":"p","g":4,"v":5.6,"j":0.033},{"k":"p","g":4,"v":48.9,"j":-0.179},{"k":"p","g":4,"v":47.7,"j":0.016}
],
"size":[
{"x":0.76,"y":-5.1},{"x":1,"y":24.2},{"x":1,"y":2},{"x":0.9,"y":-13.2},{"x":1.1,"y":-3.8},{"x":1.5,"y":54},{"x":1.5,"y":-19},{"x":1.5,"y":-28.8},{"x":1.9,"y":3},{"x":1.9,"y":-20.4},{"x":2,"y":-11.5},{"x":2,"y":-36.9},{"x":2.1,"y":13},{"x":2.1,"y":-29.3},{"x":2.2,"y":2},{"x":2.2,"y":-23.2},{"x":2.4,"y":27.2},{"x":2.5,"y":19.8},{"x":2.5,"y":-23.4},{"x":2.5,"y":-30},{"x":2.8,"y":-11},{"x":3,"y":18},{"x":3,"y":5.1},{"x":3,"y":-11.5},{"x":3,"y":-14},{"x":3,"y":-26.2},{"x":3,"y":-31.8},{"x":3,"y":-33.3},{"x":3.5,"y":45},{"x":3.5,"y":12.2},{"x":3.5,"y":-0.8},{"x":3.5,"y":-19.6},{"x":3.5,"y":-23.7},{"x":3.5,"y":-28},{"x":3.6,"y":4.6},{"x":3.8,"y":-7.1},{"x":3.9,"y":18.6},{"x":4,"y":71.2},{"x":4,"y":55},{"x":4,"y":42.5},{"x":4,"y":41.5},{"x":4,"y":12.2},{"x":4,"y":5.1},{"x":4,"y":-1.3},{"x":4,"y":-9.4},{"x":4,"y":-21.6},{"x":4,"y":-24.2},{"x":4,"y":-29.3},{"x":4,"y":-36.1},{"x":4,"y":-52.2},{"x":4,"y":-59.3},{"x":4.4,"y":-36.4},{"x":4.5,"y":109.4},{"x":4.5,"y":3.8},{"x":4.5,"y":-2.5},{"x":4.5,"y":-8.9},{"x":4.5,"y":-11.5},{"x":4.5,"y":-21.1},{"x":4.5,"y":-25.4},{"x":4.5,"y":-30.5},{"x":5,"y":57},{"x":5,"y":42},{"x":5,"y":39},{"x":5,"y":33.8},{"x":5,"y":28},{"x":5,"y":25.4},{"x":5,"y":18.6},{"x":5,"y":15.8},{"x":5,"y":-2.5},{"x":5,"y":-7.1},{"x":5,"y":-14},{"x":5,"y":-15.3},{"x":5,"y":-18.3},{"x":5,"y":-22.1},{"x":5,"y":-24.7},{"x":5,"y":-29.3},{"x":5,"y":-31.3},{"x":5,"y":-35.6},{"x":5,"y":-44},{"x":5,"y":-45.8},{"x":5.5,"y":3.8},{"x":5.5,"y":-24.2},{"x":5.5,"y":-28},{"x":5.5,"y":-31.3},{"x":5.5,"y":-35.1},{"x":5.7,"y":44.5},{"x":5.7,"y":26.7},{"x":6,"y":-8.4},{"x":6,"y":-11.5},{"x":6,"y":-15.3},{"x":6.1,"y":70.5},{"x":6.1,"y":67.4},{"x":6.1,"y":26.7},{"x":6.1,"y":20.4},{"x":6.1,"y":17.8},{"x":6.1,"y":15.3},{"x":6.1,"y":12.7},{"x":6.1,"y":5.1},{"x":6.1,"y":-19.1},{"x":6.1,"y":-21.6},{"x":6.1,"y":-26.2},{"x":6.1,"y":-30.5},{"x":6.1,"y":-33.8},{"x":6.2,"y":56},{"x":6.2,"y":50},{"x":6.2,"y":-0.8},{"x":6.5,"y":27.2},{"x":6.5,"y":10.2},{"x":6.5,"y":5.6},{"x":6.5,"y":-27.2},{"x":6.5,"y":-47.8},{"x":6.6,"y":-10.2},{"x":6.9,"y":5.1},{"x":7,"y":36.4},{"x":7,"y":12.7},{"x":7,"y":-8.4},{"x":7,"y":-14},{"x":7,"y":-24.2},{"x":7,"y":-28.8},{"x":7,"y":-32.6},{"x":7.3,"y":20.4},{"x":7.3,"y":12.2},{"x":7.5,"y":-19.1},{"x":7.5,"y":-25.4},{"x":7.5,"y":-29.3},{"x":7.5,"y":-50.9},{"x":7.6,"y":7.1},{"x":7.6,"y":-11.5},{"x":7.8,"y":19.8},{"x":8,"y":71.8},{"x":8,"y":-9.4},{"x":8,"y":-31.3},{"x":8,"y":-36.4},{"x":8,"y":-45},{"x":8.1,"y":14.8},{"x":8.4,"y":94.9},{"x":8.4,"y":-10.2},{"x":8.4,"y":-36.9},{"x":8.6,"y":-48.3},{"x":8.7,"y":-15.8},{"x":9,"y":101.8},{"x":9,"y":40.5},{"x":9,"y":-8.9},{"x":9,"y":-13.5},{"x":9,"y":-30.5},{"x":9,"y":-36.9},{"x":9,"y":-54.2},{"x":9,"y":-56},{"x":9.5,"y":-10.2},{"x":10,"y":15.3},{"x":10,"y":14},{"x":10,"y":1.3},{"x":10,"y":-3.8},{"x":10.5,"y":81.4},{"x":10.5,"y":35.6},{"x":10.5,"y":-12.7},{"x":10.7,"y":133},{"x":11,"y":4.1},{"x":11,"y":-5.9},{"x":11,"y":-7.6},{"x":11,"y":-19.1},{"x":11,"y":-20.4},{"x":11,"y":-42},{"x":11.4,"y":5.6},{"x":12,"y":27.7},{"x":12,"y":24.9},{"x":12,"y":14.5},{"x":12,"y":12.7},{"x":12,"y":-3.3},{"x":12,"y":-16},{"x":12,"y":-26.2},{"x":12,"y":-28},{"x":13,"y":55.5},{"x":13,"y":36.9},{"x":13,"y":23.7},{"x":13,"y":-8.9},{"x":13,"y":-19.1},{"x":13,"y":-22.1},{"x":14,"y":91.1},{"x":14,"y":78.4},{"x":14,"y":53},{"x":14,"y":-10.2},{"x":14,"y":-14},{"x":15,"y":60.3},{"x":15,"y":7.6},{"x":15,"y":1},{"x":15,"y":-8.4},{"x":16,"y":26.5},{"x":18,"y":5.9},{"x":18,"y":-15.3},{"x":19,"y":-19.1},{"x":19.2,"y":12},{"x":20,"y":53.2},{"x":20,"y":2.5},{"x":20,"y":-13.5},{"x":20,"y":-17.3},{"x":20,"y":-45},{"x":21,"y":25.7},{"x":22.2,"y":-19.8},{"x":24,"y":10.2},{"x":24,"y":-42.7},{"x":25.7,"y":19.1},{"x":27,"y":-21.6},{"x":30,"y":17.6},{"x":38,"y":5.6}
],
"fit":[
{"x":0.76,"fit":-4.6,"lo":-10.9,"hi":3.1},{"x":3,"fit":-2.6,"lo":-7.6,"hi":1.3},{"x":5,"fit":-1.3,"lo":-3.8,"hi":0.5},{"x":7,"fit":0,"lo":-1.8,"hi":1.3},{"x":8.5,"fit":1,"lo":-0.5,"hi":2.5},{"x":10,"fit":2,"lo":0,"hi":4.3},{"x":12,"fit":2.8,"lo":0,"hi":6.4},{"x":15,"fit":4.3,"lo":-0.8,"hi":10.2},{"x":20,"fit":6.4,"lo":-2,"hi":16},{"x":25,"fit":8.4,"lo":-5.1,"hi":22.9},{"x":30,"fit":9.9,"lo":-9.7,"hi":30.5},{"x":38,"fit":10.9,"lo":-19.6,"hi":41.5}
],
"loc":[
{"loc":"MCA","mid":0},{"loc":"ACOM","lo":-9.6,"hi":14.5,"mid":2.4},{"loc":"PCOM","lo":-13.3,"hi":18.8,"mid":2.8},{"loc":"ICA","lo":-18,"hi":18.4,"mid":0.2},{"loc":"ACA","lo":-18,"hi":26.2,"mid":4},{"loc":"PICA","lo":-30.8,"hi":19.1,"mid":-5.8},{"loc":"Basilar tip","lo":-30.8,"hi":23.6,"mid":-3.7},{"loc":"Misc","lo":-30.3,"hi":10.6,"mid":-9.9}
],
"locrug":[
{"loc":"MCA","j":-0.12},{"loc":"MCA","j":-0.1},{"loc":"MCA","j":-0.08},{"loc":"MCA","j":-0.06},{"loc":"MCA","j":-0.04},{"loc":"MCA","j":-0.02},{"loc":"MCA","j":0},{"loc":"MCA","j":0.02},{"loc":"MCA","j":0.04},{"loc":"MCA","j":0.06},{"loc":"MCA","j":0.08},{"loc":"MCA","j":0.1},{"loc":"MCA","j":0.12},{"loc":"MCA","j":0.14},
{"loc":"MCA","j":-0.11},{"loc":"MCA","j":-0.07},{"loc":"MCA","j":-0.03},{"loc":"MCA","j":0.01},{"loc":"MCA","j":0.05},{"loc":"MCA","j":0.09},{"loc":"MCA","j":0.13},{"loc":"MCA","j":-0.09},{"loc":"MCA","j":-0.05},{"loc":"MCA","j":-0.01},{"loc":"MCA","j":0.03},{"loc":"MCA","j":0.07},{"loc":"MCA","j":0.11},
{"loc":"ACOM","j":-0.12},{"loc":"ACOM","j":-0.1},{"loc":"ACOM","j":-0.08},{"loc":"ACOM","j":-0.06},{"loc":"ACOM","j":-0.04},{"loc":"ACOM","j":-0.02},{"loc":"ACOM","j":0},{"loc":"ACOM","j":0.02},{"loc":"ACOM","j":0.04},{"loc":"ACOM","j":0.06},{"loc":"ACOM","j":0.08},{"loc":"ACOM","j":0.1},{"loc":"ACOM","j":0.12},{"loc":"ACOM","j":0.15},
{"loc":"ACOM","j":-0.11},{"loc":"ACOM","j":-0.07},{"loc":"ACOM","j":-0.03},{"loc":"ACOM","j":0.01},{"loc":"ACOM","j":0.05},{"loc":"ACOM","j":0.09},{"loc":"ACOM","j":0.13},{"loc":"ACOM","j":-0.09},{"loc":"ACOM","j":-0.05},{"loc":"ACOM","j":-0.01},{"loc":"ACOM","j":0.03},{"loc":"ACOM","j":0.07},{"loc":"ACOM","j":0.11},
{"loc":"PCOM","j":-0.09},{"loc":"PCOM","j":-0.037},{"loc":"PCOM","j":-0.037},{"loc":"PCOM","j":0.037},{"loc":"PCOM","j":0.09},{"loc":"PCOM","j":0.09},{"loc":"PCOM","j":0.15},
{"loc":"ICA","j":-0.064},{"loc":"ICA","j":-0.011},{"loc":"ICA","j":0.049},{"loc":"ICA","j":0.049},{"loc":"ICA","j":0.101},{"loc":"ICA","j":0.161},
{"loc":"ACA","j":-0.052},{"loc":"ACA","j":0.022},{"loc":"ACA","j":0.135},{"loc":"ACA","j":0.135},{"loc":"ACA","j":0.135},{"loc":"ACA","j":0.15},
{"loc":"PICA","j":-0.056},{"loc":"PICA","j":0.019},{"loc":"PICA","j":0.049},{"loc":"PICA","j":0.049},{"loc":"PICA","j":0.124},
{"loc":"Basilar tip","j":-0.067},{"loc":"Basilar tip","j":-0.007},{"loc":"Basilar tip","j":0.045},{"loc":"Basilar tip","j":0.105},
{"loc":"Misc","j":-0.094},{"loc":"Misc","j":-0.07},{"loc":"Misc","j":-0.041},{"loc":"Misc","j":0.004},{"loc":"Misc","j":0.03},{"loc":"Misc","j":0.056},{"loc":"Misc","j":0.08},{"loc":"Misc","j":0.109}
],
"ich":[{"c":"no","mid":0},{"c":"yes","lo":10.1,"hi":30.5,"mid":20.2}],
"ivh":[{"c":"no","mid":0},{"c":"yes","lo":18.4,"hi":38.4,"mid":28.5}],
"ichrug":[
{"c":"no","j":-0.287},{"c":"no","j":-0.262},{"c":"no","j":-0.236},{"c":"no","j":-0.211},{"c":"no","j":-0.177},{"c":"no","j":-0.16},{"c":"no","j":-0.109},{"c":"no","j":-0.083},{"c":"no","j":-0.057},{"c":"no","j":-0.011},{"c":"no","j":0.011},{"c":"no","j":0.036},{"c":"no","j":0.062},{"c":"no","j":0.096},{"c":"no","j":0.121},{"c":"no","j":0.147},{"c":"no","j":0.181},{"c":"no","j":0.215},{"c":"no","j":0.24},{"c":"no","j":0.266},{"c":"no","j":-0.236},{"c":"no","j":-0.177},{"c":"no","j":-0.057},{"c":"no","j":0.096},{"c":"no","j":0.181},
{"c":"yes","j":-0.272},{"c":"yes","j":-0.243},{"c":"yes","j":-0.2},{"c":"yes","j":-0.17},{"c":"yes","j":-0.136},{"c":"yes","j":-0.102},{"c":"yes","j":-0.06},{"c":"yes","j":-0.03},{"c":"yes","j":-0.009},{"c":"yes","j":0.026},{"c":"yes","j":0.055},{"c":"yes","j":0.085},{"c":"yes","j":0.119},{"c":"yes","j":0.153},{"c":"yes","j":0.183},{"c":"yes","j":0.226},{"c":"yes","j":0.255},{"c":"yes","j":0.281},{"c":"yes","j":0.085},{"c":"yes","j":0.119}
],
"ivhrug":[
{"c":"no","j":-0.283},{"c":"no","j":-0.251},{"c":"no","j":-0.219},{"c":"no","j":-0.182},{"c":"no","j":-0.146},{"c":"no","j":-0.114},{"c":"no","j":-0.082},{"c":"no","j":-0.055},{"c":"no","j":-0.023},{"c":"no","j":0.009},{"c":"no","j":0.046},{"c":"no","j":0.082},{"c":"no","j":0.114},{"c":"no","j":0.146},{"c":"no","j":0.182},{"c":"no","j":0.219},{"c":"no","j":0.251},{"c":"no","j":0.283},{"c":"no","j":0.31},{"c":"no","j":0.146},{"c":"no","j":0.146},{"c":"no","j":-0.251},{"c":"no","j":0.046},
{"c":"yes","j":-0.307},{"c":"yes","j":-0.271},{"c":"yes","j":-0.234},{"c":"yes","j":-0.198},{"c":"yes","j":-0.157},{"c":"yes","j":-0.125},{"c":"yes","j":-0.088},{"c":"yes","j":-0.043},{"c":"yes","j":-0.006},{"c":"yes","j":0.026},{"c":"yes","j":0.058},{"c":"yes","j":0.094},{"c":"yes","j":0.139},{"c":"yes","j":0.167},{"c":"yes","j":0.208},{"c":"yes","j":0.24},{"c":"yes","j":0.267},{"c":"yes","j":0.294}
]
},
"vconcat":[
{"hconcat":[
 {"title":{"text":"A","anchor":"start","frame":"group","fontSize":28,"fontWeight":"bold","dx":-166.4,"offset":-1},
  "data":{"name":"bni"},
  "facet":{"column":{"field":"g","type":"ordinal","title":"BNI Grade","header":{"titleOrient":"top","labelOrient":"bottom","titleFontSize":23,"titleFontWeight":"normal","titleColor":"black","titlePadding":16,"labelFontSize":22,"labelColor":"#4d4d4d","labelPadding":14}}},
  "spacing":0,
  "bounds":"flush",
  "spec":{"width":84,"height":358,
   "layer":[
   {"transform":[{"filter":{"field":"k","equal":"v"}}],
    "mark":{"type":"area","orient":"horizontal","opacity":0.38,"interpolate":"monotone"},
    "encoding":{
     "y":{"field":"v","type":"quantitative","title":"ISHV (cc)","scale":{"domain":[-11,229],"nice":false,"zero":false},
      "axis":{"values":[0,25,50,75,100,125,150,175,200,225],"labelExpr":"datum.value % 50 === 0 ? datum.label : ''","grid":true,"gridColor":"#e8e8e8","gridWidth":{"condition":{"test":"datum.value % 50 === 0","value":1.6},"value":1.1},"ticks":false,"tickSize":0,"domain":true,"domainColor":"#555555","domainWidth":1.2,"domainDash":[309,3000],"domainDashOffset":3293,"offset":94.7,"labelPadding":-42,"labelAlign":"center","labelFontSize":22,"labelColor":"#4d4d4d","titleFontSize":22,"titleFontWeight":"normal","titleColor":"black","titlePadding":18}},
     "x":{"field":"l","type":"quantitative","title":null,"scale":{"domain":[-0.5,0.5],"nice":false,"zero":false},"axis":{"values":[0],"labels":false,"ticks":false,"domain":false,"grid":true,"gridColor":"#e8e8e8","gridWidth":1.6}},
     "x2":{"field":"h"},
     "color":{"field":"g","type":"ordinal","scale":{"domain":[1,2,3,4,5],"range":["#440154","#3B528B","#21908C","#5DC863","#FDE725"]},"legend":null}}},
   {"transform":[{"filter":{"field":"k","equal":"p"}}],
    "mark":{"type":"circle","size":36,"opacity":0.85},
    "encoding":{"y":{"field":"v","type":"quantitative","title":"ISHV (cc)"},"x":{"field":"j","type":"quantitative","title":null},"color":{"field":"g","type":"ordinal","legend":null}}}
   ]}},
 {"title":{"text":"B","anchor":"start","frame":"group","fontSize":28,"fontWeight":"bold","dx":-218.9,"offset":-1},
  "data":{"name":"fisher"},
  "facet":{"column":{"field":"g","type":"ordinal","title":"Modified Fisher Scale","header":{"titleOrient":"top","labelOrient":"bottom","titleFontSize":23,"titleFontWeight":"normal","titleColor":"black","titlePadding":16,"labelFontSize":22,"labelColor":"#4d4d4d","labelPadding":14}}},
  "spacing":0,
  "bounds":"flush",
  "spec":{"width":102.2,"height":358,
   "layer":[
   {"transform":[{"filter":{"field":"k","equal":"v"}}],
    "mark":{"type":"area","orient":"horizontal","opacity":0.38,"interpolate":"monotone"},
    "encoding":{
     "y":{"field":"v","type":"quantitative","title":"ISHV (cc)","scale":{"domain":[-11,229],"nice":false,"zero":false},
      "axis":{"values":[0,25,50,75,100,125,150,175,200,225],"labelExpr":"datum.value % 50 === 0 ? datum.label : ''","grid":true,"gridColor":"#e8e8e8","gridWidth":{"condition":{"test":"datum.value % 50 === 0","value":1.6},"value":1.1},"ticks":false,"tickSize":0,"domain":true,"domainColor":"#555555","domainWidth":1.2,"domainDash":[309,3000],"domainDashOffset":3290,"offset":100.9,"labelPadding":-51,"labelAlign":"right","labelFontSize":22,"labelColor":"#4d4d4d","titleFontSize":22,"titleFontWeight":"normal","titleColor":"black","titlePadding":18}},
     "x":{"field":"l","type":"quantitative","title":null,"scale":{"domain":[-0.5,0.5],"nice":false,"zero":false},"axis":{"values":[0],"labels":false,"ticks":false,"domain":false,"grid":true,"gridColor":"#e8e8e8","gridWidth":1.6}},
     "x2":{"field":"h"},
     "color":{"field":"g","type":"ordinal","scale":{"domain":[1,2,3,4],"range":["#440154","#31688E","#35B779","#FDE725"]},"legend":null}}},
   {"transform":[{"filter":{"field":"k","equal":"p"}}],
    "mark":{"type":"circle","size":36,"opacity":0.85},
    "encoding":{"y":{"field":"v","type":"quantitative","title":"ISHV (cc)"},"x":{"field":"j","type":"quantitative","title":null},"color":{"field":"g","type":"ordinal","legend":null}}}
   ]}}
 ],"spacing":40.3,
 "resolve":{"scale":{"color":"independent"}}},
{"title":{"text":"C","anchor":"start","frame":"group","fontSize":28,"fontWeight":"bold","dx":-164.4,"offset":15},
 "hconcat":[
  {"width":317,"height":264,
   "title":{"text":"Aneurysm size (mm)","fontSize":24,"dx":-19,"offset":13},
   "layer":[
    {"data":{"name":"fit"},"mark":{"type":"area","color":"#579c9d","interpolate":"monotone"},
     "encoding":{
      "x":{"field":"x","type":"quantitative","title":null,"scale":{"domain":[-0.63,39.5],"nice":false,"zero":false},"axis":{"values":[0,10,20,30],"offset":1,"tickSize":17,"tickColor":"black","domainColor":"black","domainDash":[237,3000],"domainDashOffset":3232,"labelFontSize":22,"labelColor":"black","labelPadding":10,"labelFlush":false,"grid":false}},
      "y":{"field":"lo","type":"quantitative","title":null,"scale":{"domain":[-87.9,113.5],"nice":false,"zero":false},"axis":{"orient":"left","values":[-50,0,50,100],"offset":1.4,"tickSize":18,"tickColor":"black","domainColor":"black","domainDash":[197,3000],"domainDashOffset":3147,"labelFontSize":22,"labelColor":"black","labelPadding":8,"labelFlush":false,"grid":false}},
      "y2":{"field":"hi"}}},
    {"data":{"name":"size"},"mark":{"type":"square","size":9,"color":"black","opacity":1},
     "encoding":{"x":{"field":"x","type":"quantitative","title":null},"y":{"field":"y","type":"quantitative","axis":null}}},
    {"data":{"name":"fit"},"mark":{"type":"line","color":"black","strokeWidth":2.2,"interpolate":"monotone"},
     "encoding":{"x":{"field":"x","type":"quantitative","title":null},"y":{"field":"fit","type":"quantitative","axis":{"orient":"left","title":"Partial dependence","titleFontSize":21.5,"titleFontWeight":"normal","titleColor":"black","titlePadding":11,"labels":false,"ticks":false,"grid":false,"offset":88.7,"domainColor":"#555555","domainDash":[253,3000],"domainDashOffset":3241}}}},
    {"data":{"name":"size"},"mark":{"type":"tick","orient":"vertical","color":"black","opacity":1,"size":10,"thickness":1},
     "encoding":{"x":{"field":"x","type":"quantitative","title":null},"y":{"datum":-85,"axis":null}}}
   ],
   "resolve":{"axis":{"y":"independent"}}},
  {"hconcat":[
   {"width":311.5,"height":264,
    "title":{"text":"Aneurysm location","fontSize":24,"offset":28},
    "layer":[
     {"data":{"name":"loc"},"mark":{"type":"rule","strokeWidth":28.3,"strokeCap":"butt","color":"#579c9d"},
      "encoding":{
       "x":{"field":"loc","type":"nominal","title":null,"scale":{"type":"point","padding":0,"domain":["MCA","ACOM","PCOM","ICA","ACA","PICA","Basilar tip","Misc"]},"axis":{"offset":1,"tickSize":15,"tickColor":"black","domainColor":"black","labelAngle":-90,"labelFontSize":19.5,"labelColor":"black","labelPadding":9,"grid":false}},
       "y":{"field":"lo","type":"quantitative","title":null,"scale":{"domain":[-40,40],"nice":false,"zero":false},"axis":{"values":[-40,-20,0,20,40],"offset":41,"tickSize":15,"tickColor":"black","domainColor":"black","labelFontSize":22,"labelColor":"black","labelPadding":9,"grid":false}},
       "y2":{"field":"hi"}}},
     {"data":{"name":"loc"},"mark":{"type":"tick","orient":"horizontal","color":"black","opacity":1,"size":28.3,"thickness":4},
      "encoding":{"x":{"field":"loc","type":"nominal","title":null},"y":{"field":"mid","type":"quantitative","title":null}}},
     {"data":{"name":"locrug"},"mark":{"type":"tick","orient":"vertical","color":"black","opacity":0.5,"size":12,"thickness":1},
      "encoding":{"x":{"field":"loc","type":"nominal","title":null},"xOffset":{"field":"j","type":"quantitative","scale":{"domain":[-0.5,0.5],"range":[-22.25,22.25]}},"y":{"datum":-35.5}}}
    ]},
   {"hconcat":[
    {"width":78.3,"height":264,
     "title":{"text":"ICH","fontSize":24,"offset":40},
     "layer":[
      {"data":{"name":"ich"},"mark":{"type":"rule","strokeWidth":45,"strokeCap":"butt","color":"#00838a"},
       "encoding":{
        "x":{"field":"c","type":"nominal","title":null,"scale":{"type":"point","padding":0,"domain":["no","yes"]},"axis":{"offset":1,"tickSize":15,"tickColor":"black","domainColor":"black","labelAngle":0,"labelFontSize":21,"labelColor":"black","labelPadding":10,"grid":false}},
        "y":{"field":"lo","type":"quantitative","title":null,"scale":{"domain":[-40,40],"nice":false,"zero":false},"axis":null},
        "y2":{"field":"hi"}}},
      {"data":{"name":"ich"},"mark":{"type":"tick","orient":"horizontal","color":"black","opacity":1,"size":45,"thickness":4},
       "encoding":{"x":{"field":"c","type":"nominal","title":null},"y":{"field":"mid","type":"quantitative","axis":null}}},
      {"data":{"name":"ichrug"},"mark":{"type":"tick","orient":"vertical","color":"black","opacity":0.55,"size":12,"thickness":1},
       "encoding":{"x":{"field":"c","type":"nominal","title":null},"xOffset":{"field":"j","type":"quantitative","scale":{"domain":[-0.5,0.5],"range":[-39.15,39.15]}},"y":{"datum":-35.5,"axis":null}}}
     ]},
    {"width":73.1,"height":264,
     "title":{"text":"IVH","fontSize":24,"offset":21.5},
     "layer":[
      {"data":{"name":"ivh"},"mark":{"type":"rule","strokeWidth":45,"strokeCap":"butt","color":"#579c9d"},
       "encoding":{
        "x":{"field":"c","type":"nominal","title":null,"scale":{"type":"point","padding":0,"domain":["no","yes"]},"axis":{"offset":1,"tickSize":15,"tickColor":"black","domainColor":"black","labelAngle":0,"labelFontSize":21,"labelColor":"black","labelPadding":10,"grid":false}},
        "y":{"field":"lo","type":"quantitative","title":null,"scale":{"domain":[-40,40],"nice":false,"zero":false},"axis":null},
        "y2":{"field":"hi"}}},
      {"data":{"name":"ivh"},"mark":{"type":"tick","orient":"horizontal","color":"black","opacity":1,"size":45,"thickness":4},
       "encoding":{"x":{"field":"c","type":"nominal","title":null},"y":{"field":"mid","type":"quantitative","axis":null}}},
      {"data":{"name":"ivhrug"},"mark":{"type":"tick","orient":"vertical","color":"black","opacity":0.55,"size":12,"thickness":1},
       "encoding":{"x":{"field":"c","type":"nominal","title":null},"xOffset":{"field":"j","type":"quantitative","scale":{"domain":[-0.5,0.5],"range":[-36.55,36.55]}},"y":{"datum":-35.5,"axis":null}}}
     ]}
   ],"spacing":50.7}
  ],"spacing":43.3}
 ],"spacing":30}
],
"spacing":38
}
